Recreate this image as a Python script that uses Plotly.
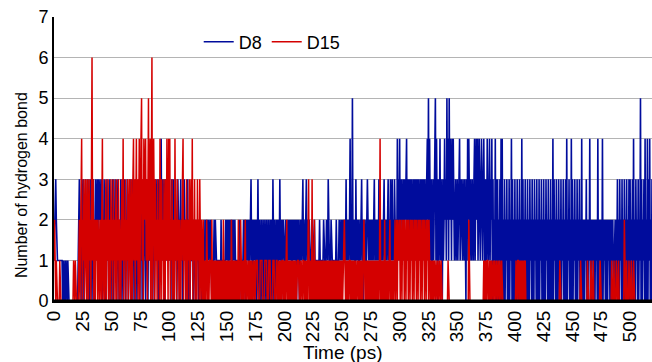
import plotly.graph_objects as go

# Time axis: one sample every 0.5 ps, 0 .. 519.5 ps
time_ps = [i * 0.5 for i in range(1040)]

# D8 hydrogen-bond counts (blue), rows of 20 ps (40 samples)
d8 = [
    1,2,2,3,2,1,1,1,1,1, 1,1,1,1,1,0,1,0,0,1, 0,1,0,0,1,0,0,0,0,0, 0,0,0,0,0,0,0,0,0,0,
    0,0,1,2,3,1,2,0,3,1, 2,3,0,2,1,3,2,0,1,3, 2,1,0,3,2,1,0,2,3,1, 2,0,3,1,2,3,1,3,2,3,
    3,1,2,3,0,2,1,3,2,1, 0,2,3,1,2,0,1,3,2,0, 2,1,3,0,2,1,3,2,1,0, 2,3,1,0,2,1,3,2,0,1,
    3,2,3,1,0,2,1,3,2,0, 1,2,3,1,2,0,3,1,2,0, 2,1,3,2,0,1,2,3,1,0, 2,1,3,0,2,1,3,2,1,0,
    2,3,1,0,2,3,1,2,0,3, 2,1,3,2,0,1,3,2,1,3, 2,0,3,1,2,3,4,1,3,2, 1,3,0,2,3,1,2,3,1,2,
    3,1,2,0,3,2,1,3,0,2, 1,3,2,0,1,3,2,1,0,2, 3,1,2,0,2,1,3,2,1,0, 2,1,3,0,1,2,0,1,2,1,
    1,2,0,1,2,1,0,1,1,2, 1,0,1,1,2,1,0,1,1,1, 1,0,2,1,2,1,1,2,1,2, 1,1,2,1,0,1,1,1,2,1,
    2,1,1,1,0,1,1,1,1,0, 2,1,1,1,0,1,1,1,2,1, 2,1,2,0,2,1,2,1,2,0, 2,1,2,1,2,1,1,1,0,1,
    1,1,2,1,1,0,1,1,1,2, 1,2,0,2,1,2,1,2,0,2, 1,2,3,1,2,0,2,1,2,1, 2,0,2,1,3,1,0,2,1,0,
    2,1,0,2,1,0,2,1,0,2, 1,0,2,1,0,2,0,2,1,0, 3,1,0,2,1,0,2,1,2,0, 2,1,3,1,2,0,2,1,2,1,
    1,1,2,1,1,1,2,1,2,1, 2,1,2,0,2,1,2,1,2,1, 2,0,2,1,2,1,0,2,1,2, 1,2,3,1,2,1,1,2,3,1,
    2,1,1,2,1,1,1,1,2,1, 1,1,2,1,1,1,1,0,1,1, 1,2,1,1,1,1,1,1,2,1, 1,1,1,2,1,1,3,1,1,1,
    1,2,1,1,1,1,0,1,1,1, 2,1,1,1,1,2,1,1,2,1, 2,1,2,1,1,2,1,3,1,2, 1,2,1,2,4,1,2,1,5,1,
    2,1,2,0,3,1,2,1,2,1, 1,2,1,2,3,1,2,0,2,1, 2,1,1,2,3,2,1,2,1,2, 1,2,1,2,1,2,3,1,2,1,
    2,1,2,1,3,1,2,1,2,1, 2,1,2,3,1,2,1,2,1,2, 3,1,2,1,3,2,1,3,1,2, 1,3,2,1,2,1,4,1,3,2,
    4,1,3,2,3,1,2,3,1,3, 2,3,4,1,3,2,3,1,3,2, 3,1,2,3,1,3,2,3,1,3, 2,3,1,3,2,1,3,2,3,1,
    3,2,3,1,3,2,1,3,4,2, 5,1,4,2,1,3,0,2,3,1, 2,4,5,1,4,2,0,3,1,2, 4,1,3,2,0,3,1,2,4,2,
    3,1,5,2,4,1,5,2,4,3, 1,4,2,4,3,1,2,3,1,2, 3,1,2,3,4,1,2,3,2,1, 3,2,1,3,2,0,3,1,4,2,
    4,2,1,3,2,1,3,2,1,3, 4,1,3,4,2,4,1,3,4,2, 1,3,4,2,1,3,4,2,0,3, 2,1,4,3,1,2,4,1,3,2,
    4,0,3,0,2,1,4,0,3,0, 3,0,2,1,3,0,4,0,4,0, 2,0,3,0,2,1,3,0,2,0, 3,0,2,1,4,0,3,0,2,0,
    3,0,2,0,3,1,2,0,3,0, 2,0,4,0,3,0,2,1,3,0, 2,0,3,0,2,0,3,1,2,0, 3,0,2,0,3,1,2,0,3,0,
    2,0,3,0,2,1,3,0,2,0, 3,0,2,0,3,1,2,0,3,0, 2,0,3,0,2,0,4,0,3,1, 2,0,3,0,2,0,3,1,2,0,
    3,0,2,1,3,0,2,0,3,0, 4,0,2,1,3,0,2,0,4,0, 3,0,2,1,3,0,2,0,3,0, 2,1,3,0,2,0,4,0,2,0,
    2,0,2,1,3,0,2,0,2,1, 4,0,2,0,2,1,2,0,2,0, 2,1,2,0,4,0,2,1,2,0, 2,0,4,0,2,1,2,0,2,0,
    2,0,2,1,2,0,2,0,2,1, 2,0,1,1,2,0,2,1,3,0, 2,0,3,1,2,0,3,0,2,0, 3,0,2,1,3,0,2,0,3,0,
    3,0,2,1,3,0,4,0,2,0, 3,1,2,0,3,0,2,1,5,0, 3,0,2,1,3,0,4,0,2,0, 4,0,3,1,4,0,2,0,3,1,
]

# D15 hydrogen-bond counts (red), rows of 20 ps (40 samples)
d15 = [
    1,2,1,0,1,0,0,0,0,0, 1,0,0,0,0,0,0,0,0,0, 0,0,0,0,0,0,0,0,0,0, 0,0,0,0,1,0,0,1,0,0,
    0,0,0,1,2,0,1,3,4,0, 2,1,3,0,2,3,1,0,3,2, 0,3,1,2,0,3,6,1,3,0, 1,2,0,2,1,2,0,1,2,0,
    1,2,0,2,4,0,1,2,0,2, 3,0,2,1,3,0,2,1,0,3, 1,2,0,3,1,2,0,2,3,0, 2,1,3,0,2,1,0,2,3,1,
    4,0,2,1,3,0,2,1,3,0, 2,3,1,0,3,2,0,3,4,1, 3,0,2,4,1,3,0,2,4,0, 3,4,5,1,3,0,4,2,3,4,
    1,3,0,4,5,1,2,4,0,3, 6,0,3,4,2,0,3,1,2,0, 3,1,2,0,4,2,0,3,1,2, 0,3,2,0,3,1,4,2,0,4,
    1,4,0,2,1,3,0,2,1,0, 4,1,2,0,3,1,2,0,2,1, 0,2,1,3,4,0,2,1,2,0, 3,1,0,2,1,3,0,2,3,1,
    4,0,2,1,3,0,2,1,0,3, 1,2,0,3,1,0,2,1,0,2, 0,1,0,1,0,2,1,0,1,0, 1,1,1,0,2,0,1,0,1,0,
    1,0,1,0,1,0,1,0,1,0, 1,0,1,0,2,0,1,0,1,0, 1,0,1,0,1,0,1,0,2,0, 1,0,1,0,1,0,1,0,1,0,
    2,0,1,0,2,1,0,1,0,1, 0,1,2,0,1,0,1,1,0,1, 0,1,0,1,0,1,1,0,1,0, 1,1,1,1,0,0,0,0,1,1,
    1,1,0,0,0,0,1,1,1,1, 0,0,0,1,1,1,0,0,0,0, 1,1,1,0,0,0,1,1,0,0, 1,0,1,0,1,0,1,1,0,1,
    0,1,0,1,2,0,1,0,1,0, 1,0,1,0,1,0,1,0,1,0, 1,0,1,1,1,0,0,1,0,1, 0,0,1,1,0,1,0,1,0,1,
    0,1,3,0,1,0,1,0,3,0, 1,0,2,0,1,0,1,0,1,0, 1,0,1,0,1,0,1,0,1,0, 1,0,1,0,1,0,1,0,1,0,
    1,0,1,0,1,0,1,0,1,0, 1,0,1,0,1,0,1,0,1,0, 1,0,1,1,2,1,0,1,0,1, 0,1,0,1,1,0,1,0,1,0,
    1,0,1,0,1,0,1,1,0,1, 0,1,0,1,0,1,0,1,2,1, 0,1,0,1,0,1,0,1,0,1, 0,1,0,1,0,1,0,1,0,1,
    0,1,0,1,0,1,4,0,1,0, 1,0,1,0,2,0,1,0,1,0, 1,0,1,2,0,1,0,1,0,1, 0,1,2,0,1,2,0,2,1,2,
    2,0,2,1,0,2,1,2,0,2, 1,0,2,1,2,0,2,1,0,2, 1,2,0,2,1,0,2,1,2,0, 2,1,0,2,1,2,0,2,1,0,
    2,1,2,0,2,1,0,2,1,2, 0,2,1,0,1,0,1,0,1,0, 1,0,0,1,0,0,1,0,0,1, 0,0,1,0,0,0,0,0,0,0,
    0,0,0,0,1,0,0,0,0,0, 0,0,0,0,0,0,0,0,0,0, 0,0,0,0,0,0,0,0,0,0, 0,0,0,0,0,0,0,0,0,0,
    2,0,0,0,0,0,0,0,0,0, 0,0,0,0,0,0,0,0,0,0, 0,0,0,0,0,0,1,0,1,0, 1,0,1,1,0,0,1,0,1,0,
    1,0,0,1,0,1,0,0,1,0, 0,1,0,0,1,0,0,1,0,0, 0,0,0,0,0,0,0,0,0,0, 0,0,0,0,0,0,0,0,0,0,
    0,0,1,0,0,1,1,0,1,0, 1,0,1,0,1,0,1,0,1,0, 0,0,0,0,0,0,0,0,0,0, 0,0,0,0,0,0,0,0,0,0,
    0,0,0,0,0,0,0,0,0,0, 0,0,0,0,0,0,0,0,0,0, 0,0,0,0,0,0,0,0,0,0, 0,0,0,0,0,0,0,0,1,0,
    0,0,0,0,0,0,0,0,0,0, 0,0,0,0,0,0,0,0,0,0, 0,0,0,0,0,0,0,0,0,0, 0,0,0,0,1,0,0,0,0,0,
    0,0,0,0,0,0,1,0,0,0, 0,0,1,0,0,0,1,0,0,0, 0,0,0,0,0,0,0,0,1,0, 0,0,0,0,0,0,0,0,0,0,
    0,0,0,0,0,0,0,0,1,0, 0,0,1,0,0,0,1,0,0,0, 1,0,0,0,0,0,0,0,0,0, 2,0,0,0,1,0,0,0,1,0,
    0,0,1,0,0,0,1,0,0,0, 0,0,0,0,0,0,0,0,0,0, 0,0,0,0,0,0,0,0,0,0, 0,0,0,0,0,0,0,0,0,0,
]

x_ticks = list(range(0, 525, 25))
y_ticks = list(range(0, 8))

FONT = "Liberation Sans, Arial, sans-serif"

fig = go.Figure()
fig.add_trace(go.Scatter(x=time_ps, y=d8, mode="lines", name="D8",
                         line=dict(color="#000c9c", width=1.6)))
fig.add_trace(go.Scatter(x=time_ps, y=d15, mode="lines", name="D15",
                         line=dict(color="#d40000", width=1.5)))

fig.update_layout(
    width=652, height=362,
    margin=dict(l=54, r=0, t=17, b=61),
    paper_bgcolor="white", plot_bgcolor="white",
    font=dict(family=FONT, color="black"),
    showlegend=True,
    legend=dict(orientation="h", x=0.242, y=0.912, xanchor="left",
                yanchor="middle", bgcolor="rgba(0,0,0,0)",
                font=dict(size=18), tracegroupgap=0),
    xaxis=dict(range=[0, 519], tickmode="array", tickvals=x_ticks,
               ticktext=[str(v) for v in x_ticks], tickangle=-90,
               tickfont=dict(size=19), showgrid=False, zeroline=False,
               showline=True, linecolor="black", linewidth=2, ticks=""),
    yaxis=dict(range=[0, 7], tickmode="array", tickvals=y_ticks,
               tickfont=dict(size=18), showgrid=True, gridcolor="#b4b4b4",
               gridwidth=1, zeroline=False, showline=True, linecolor="black",
               linewidth=2, ticks=""),
    shapes=[dict(type="line", xref="paper", yref="y", x0=0, x1=1, y0=0, y1=0,
                 line=dict(color="black", width=3), layer="above")],
    annotations=[
        dict(text="Number of hydrogen bond", xref="paper", yref="paper",
             x=-0.0552, y=0.408, xanchor="center", yanchor="middle",
             textangle=-90, showarrow=False, font=dict(size=16)),
        dict(text="Time (ps)", xref="paper", yref="paper",
             x=0.483, y=-0.183, xanchor="center", yanchor="middle",
             showarrow=False, font=dict(size=19)),
    ],
)

fig.write_html("out.html")
